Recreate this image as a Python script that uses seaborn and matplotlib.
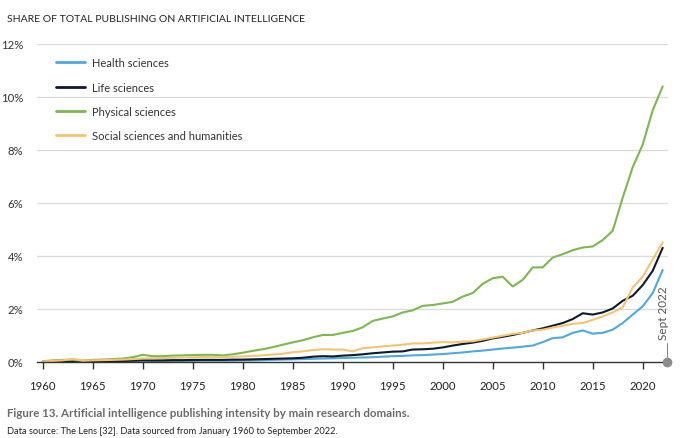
import numpy as np
import pandas as pd
import matplotlib
matplotlib.use("Agg")
import matplotlib.pyplot as plt
import seaborn as sns
from matplotlib.lines import Line2D

years = list(range(1960, 2023))

health = [0.01, 0.01, 0.01, 0.02, 0.01, 0.02, 0.02, 0.02, 0.02, 0.03,
          0.04, 0.04, 0.04, 0.04, 0.04, 0.04, 0.05, 0.05, 0.05, 0.05,
          0.06, 0.06, 0.07, 0.08, 0.09, 0.10, 0.11, 0.12, 0.13, 0.14,
          0.15, 0.16, 0.17, 0.18, 0.20, 0.22, 0.23, 0.25, 0.26, 0.28,
          0.30, 0.33, 0.36, 0.40, 0.43, 0.47, 0.51, 0.54, 0.58, 0.62,
          0.75, 0.90, 0.93, 1.10, 1.19, 1.07, 1.10, 1.22, 1.47, 1.79,
          2.10, 2.60, 3.47]

life = [0.01, 0.02, 0.02, 0.04, 0.02, 0.03, 0.03, 0.03, 0.04, 0.05,
        0.07, 0.06, 0.06, 0.07, 0.07, 0.08, 0.08, 0.08, 0.08, 0.09,
        0.09, 0.10, 0.11, 0.12, 0.13, 0.14, 0.16, 0.20, 0.22, 0.21,
        0.24, 0.26, 0.29, 0.33, 0.36, 0.39, 0.40, 0.47, 0.48, 0.50,
        0.55, 0.62, 0.68, 0.73, 0.80, 0.89, 0.95, 1.02, 1.10, 1.19,
        1.27, 1.37, 1.47, 1.62, 1.84, 1.79, 1.87, 2.02, 2.31, 2.50,
        2.90, 3.44, 4.31]

physical = [0.03, 0.06, 0.08, 0.08, 0.05, 0.08, 0.09, 0.11, 0.13, 0.18,
            0.27, 0.22, 0.22, 0.24, 0.25, 0.26, 0.27, 0.27, 0.25, 0.29,
            0.35, 0.42, 0.48, 0.56, 0.65, 0.74, 0.82, 0.93, 1.02, 1.02,
            1.10, 1.17, 1.31, 1.55, 1.64, 1.72, 1.87, 1.95, 2.12, 2.15,
            2.21, 2.27, 2.47, 2.60, 2.95, 3.16, 3.22, 2.85, 3.10, 3.57,
            3.57, 3.94, 4.07, 4.22, 4.32, 4.36, 4.60, 4.95, 6.20, 7.35,
            8.20, 9.50, 10.40]

social = [0.02, 0.04, 0.06, 0.12, 0.05, 0.06, 0.07, 0.08, 0.09, 0.11,
          0.13, 0.14, 0.15, 0.16, 0.17, 0.18, 0.19, 0.18, 0.19, 0.20,
          0.21, 0.23, 0.25, 0.28, 0.31, 0.37, 0.40, 0.45, 0.48, 0.47,
          0.47, 0.40, 0.52, 0.55, 0.59, 0.62, 0.65, 0.70, 0.70, 0.73,
          0.75, 0.74, 0.77, 0.78, 0.85, 0.92, 0.99, 1.06, 1.10, 1.19,
          1.22, 1.30, 1.37, 1.44, 1.47, 1.59, 1.72, 1.87, 2.06, 2.81,
          3.22, 3.87, 4.52]

series_names = ["Health sciences", "Life sciences", "Physical sciences",
                "Social sciences and humanities"]
colors = ["#4fa9dc", "#0e1a2e", "#7cb84e", "#f6c370"]
y_ticks = [0, 2, 4, 6, 8, 10, 12]
y_tick_labels = ["0%", "2%", "4%", "6%", "8%", "10%", "12%"]
x_ticks = list(range(1960, 2021, 5))

df = pd.DataFrame({
    "year": years * 4,
    "value": health + life + physical + social,
    "series": sum([[n] * len(years) for n in series_names], []),
})

sns.set_style("white")
plt.rcParams["font.family"] = ["Lato", "DejaVu Sans"]

fig = plt.figure(figsize=(6.8, 4.39), dpi=100)
ax = fig.add_axes([37 / 680, 1 - 363 / 439, (668 - 37) / 680, (363 - 45) / 439])

for y in y_ticks[1:]:
    ax.axhline(y, color="#dcdcdc", lw=1.0, zorder=0)

sns.lineplot(data=df, x="year", y="value", hue="series", hue_order=series_names,
             palette=colors, lw=1.5, ax=ax, legend=False, clip_on=False, zorder=3)

ax.set_xlim(1959.43, 2022.53)
ax.set_ylim(0, 12)
ax.set_yticks(y_ticks)
ax.set_yticklabels(y_tick_labels)
ax.set_xticks(x_ticks)
ax.set_xticklabels([str(x) for x in x_ticks])
ax.set_xlabel("")
ax.set_ylabel("")
for s in ["top", "right", "left"]:
    ax.spines[s].set_visible(False)
ax.spines["bottom"].set_color("#333333")
ax.spines["bottom"].set_linewidth(1.0)
ax.spines["bottom"].set_zorder(4)
ax.tick_params(axis="x", length=5, width=1, color="#333333", direction="out",
               labelsize=8.2, labelcolor="#222222", pad=8, bottom=True)
ax.tick_params(axis="y", length=0, labelsize=8.2, labelcolor="#333333", pad=10)

# Sept 2022 marker
ax.plot([2022.4], [0], marker="o", ms=6, color="#8c8c8c", clip_on=False, zorder=5)
ax.plot([2022.4, 2022.4], [0, 0.7], color="#8c8c8c", lw=0.8, clip_on=False, zorder=5)
ax.text(2022.1, 0.85, "Sept 2022", rotation=90, ha="center", va="bottom",
        fontsize=8.5, color="#555555")

handles = [Line2D([0], [0], color=c, lw=2) for c in colors]
leg = ax.legend(handles, series_names, loc="upper left", bbox_to_anchor=(0.015, 0.99),
                frameon=False, fontsize=8, handlelength=2.6, handletextpad=0.6,
                labelspacing=1.2, labelcolor="#333333")

fig.text(7 / 680, 1 - 20 / 439, "SHARE OF TOTAL PUBLISHING ON ARTIFICIAL INTELLIGENCE",
         fontsize=7.5, color="#222222", va="center", ha="left")
fig.text(7 / 680, 1 - 414 / 439,
         "Figure 13. Artificial intelligence publishing intensity by main research domains.",
         fontsize=8.3, fontweight="bold", color="#6b6b6b", va="center", ha="left")
fig.text(7 / 680, 1 - 432 / 439,
         "Data source: The Lens [32]. Data sourced from January 1960 to September 2022.",
         fontsize=6.7, color="#222222", va="center", ha="left")

fig.savefig("out.png", dpi=100)
